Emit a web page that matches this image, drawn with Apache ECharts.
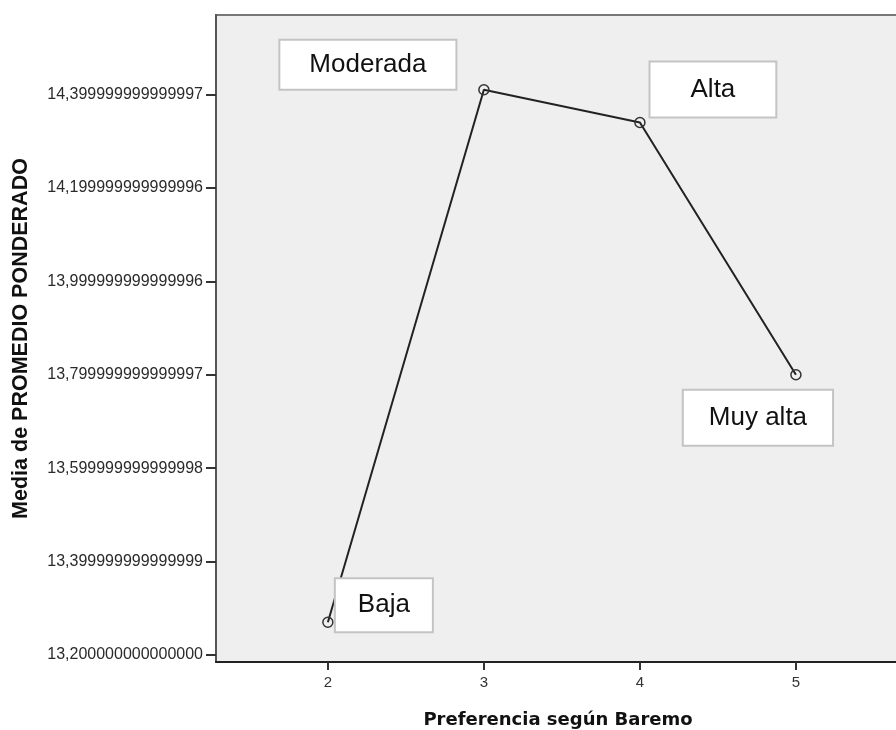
<!DOCTYPE html>
<html>
<head>
<meta charset="utf-8">
<script src="https://cdn.jsdelivr.net/npm/echarts@6/dist/echarts.min.js"></script>
<style>html,body{margin:0;padding:0;background:#fff;}#chart{width:896px;height:730px;}</style>
</head>
<body>
<div id="chart"></div>
<script>
// ---- data ----
const xValues = [2, 3, 4, 5];
const categoryNames = ['Baja', 'Moderada', 'Alta', 'Muy alta'];
const means = [13.27, 14.41, 14.34, 13.80];
const yTickValues = [13.2, 13.4, 13.6, 13.8, 14.0, 14.2, 14.4];
const yTickLabels = ['13,200000000000000', '13,399999999999999', '13,599999999999998',
  '13,799999999999997', '13,999999999999996', '14,199999999999996', '14,399999999999997'];
const xTickValues = [2, 3, 4, 5];
const xTitle = 'Preferencia según Baremo';
const yTitle = 'Media de PROMEDIO PONDERADO';

// ---- label box layout (style only) ----
const labelOffsets = [[56, -17], [-116, -25], [73, -33], [-38, 43]];
const labelPads = [[14, 22, 10, 22], [12, 29, 8, 29], [15, 40, 11, 40], [15, 25, 11, 25]];

const seriesData = xValues.map((x, i) => ({
  value: [x, means[i]],
  name: categoryNames[i],
  label: { padding: labelPads[i] }
}));

const chart = echarts.init(document.getElementById('chart'), null, { renderer: 'canvas' });
chart.setOption({
  animation: false,
  backgroundColor: '#ffffff',
  textStyle: { fontFamily: 'Liberation Sans, Arial, sans-serif' },
  grid: {
    left: 216, top: 15, right: -4, bottom: 68,
    outerBoundsMode: 'none', containLabel: false,
    show: true, backgroundColor: '#efefef', borderColor: '#777', borderWidth: 2
  },
  xAxis: {
    type: 'value', min: 1.283, max: 5.667,
    name: xTitle, nameLocation: 'middle', nameGap: 49,
    nameTextStyle: { fontFamily: 'DejaVu Sans', fontWeight: 'bold', fontSize: 18, color: '#111' },
    axisLine: { show: true, lineStyle: { color: '#222', width: 2 } },
    axisTick: { show: true, length: 8, lineStyle: { color: '#333', width: 2 }, customValues: xTickValues },
    axisLabel: { fontSize: 15, color: '#333', margin: 13, customValues: xTickValues,
      formatter: v => String(v) },
    splitLine: { show: false }
  },
  yAxis: {
    type: 'value', min: 13.185, max: 14.57,
    name: yTitle, nameLocation: 'middle', nameGap: 184, nameRotate: 90,
    nameTextStyle: { fontFamily: 'Liberation Sans', fontWeight: 'bold', fontSize: 21.5, color: '#111' },
    axisLine: { show: true, lineStyle: { color: '#555', width: 2 } },
    axisTick: { show: true, length: 10, lineStyle: { color: '#333', width: 2 }, customValues: yTickValues },
    axisLabel: { fontSize: 16, color: '#2a2a2a', margin: 13, customValues: yTickValues,
      formatter: v => {
        const i = yTickValues.findIndex(t => Math.abs(t - v) < 1e-6);
        return i >= 0 ? yTickLabels[i] : '';
      } },
    splitLine: { show: false }
  },
  series: [{
    type: 'line',
    data: seriesData,
    symbol: 'circle', symbolSize: 10,
    itemStyle: { color: 'rgba(0,0,0,0)', borderColor: '#333', borderWidth: 1.5 },
    lineStyle: { color: '#222', width: 2 },
    label: {
      show: true, position: 'inside',
      formatter: p => p.name,
      fontFamily: 'Liberation Sans', fontSize: 26, color: '#111', lineHeight: 28,
      backgroundColor: '#ffffff', borderColor: '#c4c4c4', borderWidth: 2
    },
    labelLayout: p => ({ dx: labelOffsets[p.dataIndex][0], dy: labelOffsets[p.dataIndex][1], hideOverlap: false }),
    emphasis: { disabled: true }
  }]
});
</script>
</body>
</html>
